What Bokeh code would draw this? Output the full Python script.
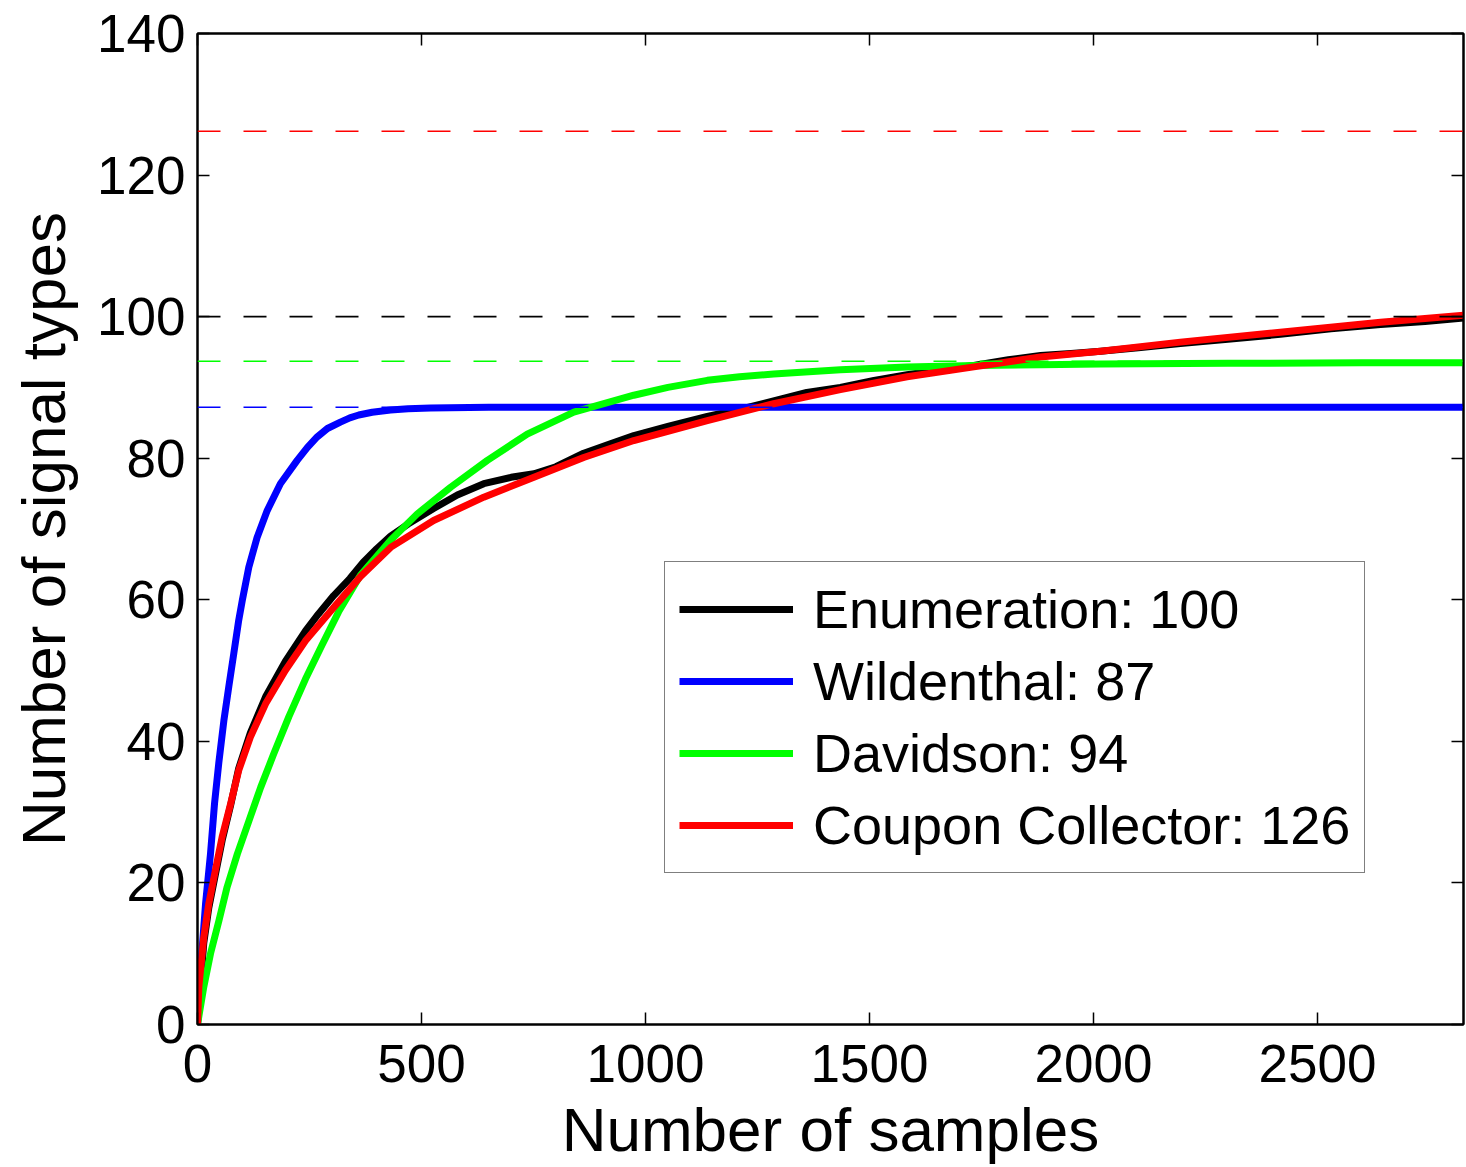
from bokeh.plotting import figure
from bokeh.models import Range1d, LinearAxis, Span, Legend, LegendItem, FixedTicker
from bokeh.embed import file_html
from bokeh.resources import INLINE

# ---------------- data ----------------
X_MAX = 2826
Y_MAX = 140
x_ticks = [0, 500, 1000, 1500, 2000, 2500]
y_ticks = [0, 20, 40, 60, 80, 100, 120, 140]

enum_s = [0, 14, 25, 40, 55, 74, 92, 118, 152, 196, 241, 270, 304, 340, 370, 400, 431, 470,
          527, 580, 639, 700, 751, 800, 862, 920, 974, 1050, 1138, 1210, 1286, 1360, 1435,
          1510, 1584, 1660, 1733, 1810, 1882, 1950, 2016, 2100, 2194, 2300, 2417, 2530,
          2641, 2740, 2826]
enum_v = [0, 11.5, 16.4, 21.2, 26.0, 31.0, 36.2, 41.2, 46.3, 51.3, 55.6, 58.0, 60.6, 63.0,
          65.3, 67.2, 69.0, 70.7, 72.9, 74.8, 76.4, 77.3, 77.8, 78.8, 80.7, 82.0, 83.2, 84.5,
          85.9, 86.9, 88.1, 89.3, 90.0, 91.0, 91.8, 92.5, 93.1, 93.9, 94.5, 94.8, 95.1, 95.6,
          96.2, 96.8, 97.5, 98.3, 98.9, 99.3, 99.8]

wild_s = [0, 1, 6.7, 17.9, 29, 38, 47.6, 58.8, 70, 81, 92, 100, 114.5, 133, 155.6, 185,
          222.5, 245, 267, 290, 319, 340, 360, 390, 431, 470, 520, 650, 800, 2826]
wild_v = [0, 1.5, 7.6, 17.0, 24.1, 31.2, 37.0, 42.9, 47.8, 52.4, 57.1, 59.9, 64.6, 68.8,
          72.6, 76.4, 79.7, 81.5, 83.0, 84.2, 85.1, 85.7, 86.1, 86.5, 86.8, 87.0, 87.1,
          87.2, 87.2, 87.2]

dav_s = [0, 14, 29, 48, 66, 89, 115, 141, 170, 204, 241, 278, 315, 364, 431, 490, 565, 647,
         736, 840, 974, 1050, 1138, 1210, 1286, 1435, 1584, 1733, 1882, 2016, 2300, 2600,
         2826]
dav_v = [0, 5.3, 10.0, 14.7, 19.4, 24.1, 28.8, 33.5, 38.2, 43.5, 48.8, 53.6, 58.3, 63.5,
         68.4, 72.1, 75.9, 79.7, 83.4, 86.5, 88.9, 90.0, 91.0, 91.5, 91.9, 92.5, 92.9,
         93.1, 93.2, 93.3, 93.4, 93.5, 93.5]

coup_s = [0, 3, 14, 25, 40, 55, 74, 92, 118, 152, 196, 241, 304, 364, 431, 527, 639, 751,
          862, 974, 1138, 1286, 1435, 1584, 1733, 1882, 2016, 2194, 2417, 2641, 2826]
coup_v = [0, 5.3, 12.3, 17.0, 21.8, 26.5, 31.2, 35.9, 40.6, 45.3, 50.0, 54.2, 58.9, 63.3,
          67.4, 71.2, 74.5, 77.3, 80.1, 82.5, 85.3, 87.7, 89.7, 91.5, 92.9, 94.3, 95.1, 96.4,
          97.8, 99.2, 100.2]

series_names = ["Enumeration: 100", "Wildenthal: 87", "Davidson: 94", "Coupon Collector: 126"]
series_colors = ["#000000", "#0000FF", "#00FF00", "#FF0000"]
asymptotes = [100.0, 87.2, 93.7, 126.2]

FONT = "Liberation Sans"

p = figure(width=1466, height=1167, output_backend="svg", toolbar_location=None,
           x_range=Range1d(0, X_MAX), y_range=Range1d(0, Y_MAX),
           min_border_left=197, min_border_right=3, min_border_top=33,
           min_border_bottom=143, background_fill_color="white",
           border_fill_color="white")

p.xgrid.visible = False
p.ygrid.visible = False
p.outline_line_color = "black"
p.outline_line_width = 2

series = [(enum_s, enum_v), (wild_s, wild_v), (dav_s, dav_v), (coup_s, coup_v)]
renderers = []
for (xs, ys), c in zip(series, series_colors):
    r = p.line(xs, ys, line_color=c, line_width=7, line_join="round")
    renderers.append(r)

for val, c in zip(asymptotes, series_colors):
    p.add_layout(Span(location=val, dimension="width", line_color=c,
                      line_width=1.6, line_dash="23 23"))

def style_axis(ax):
    ax.axis_line_color = "black"
    ax.axis_line_width = 2
    ax.major_tick_line_color = "black"
    ax.major_tick_line_width = 1.5
    ax.major_tick_in = 12
    ax.major_tick_out = 0
    ax.minor_tick_in = 0
    ax.minor_tick_out = 0
    ax.major_label_text_font = FONT
    ax.major_label_text_font_size = "53px"
    ax.major_label_text_color = "black"
    ax.axis_label_text_font = FONT
    ax.axis_label_text_font_size = "62px"
    ax.axis_label_text_font_style = "normal"
    ax.axis_label_text_color = "black"

p.xaxis.ticker = FixedTicker(ticks=x_ticks)
p.yaxis.ticker = FixedTicker(ticks=y_ticks)
style_axis(p.xaxis[0])
style_axis(p.yaxis[0])
p.xaxis.axis_label = "Number of samples"
p.yaxis.axis_label = "Number of signal types"
p.xaxis.major_label_standoff = 20
p.yaxis.major_label_standoff = 12
p.xaxis.axis_label_standoff = 10
p.yaxis.axis_label_standoff = 16

top = LinearAxis(ticker=FixedTicker(ticks=x_ticks),
                 major_label_overrides={t: "" for t in x_ticks})
right = LinearAxis(ticker=FixedTicker(ticks=y_ticks),
                   major_label_overrides={t: "" for t in y_ticks})
for ax in (top, right):
    style_axis(ax)
    ax.major_label_standoff = 0
p.add_layout(top, "above")
p.add_layout(right, "right")

legend = Legend(items=[LegendItem(label=n, renderers=[r]) for n, r in zip(series_names, renderers)],
                location=(467, 151), orientation="vertical",
                label_text_font=FONT, label_text_font_size="54px",
                label_text_color="black",
                glyph_width=114, glyph_height=66, label_height=66,
                spacing=6, padding=14, label_standoff=20, margin=0,
                border_line_color="black", border_line_width=1.5,
                background_fill_color="white", background_fill_alpha=1.0)
p.add_layout(legend)

open("out.html", "w").write(file_html(p, INLINE))
